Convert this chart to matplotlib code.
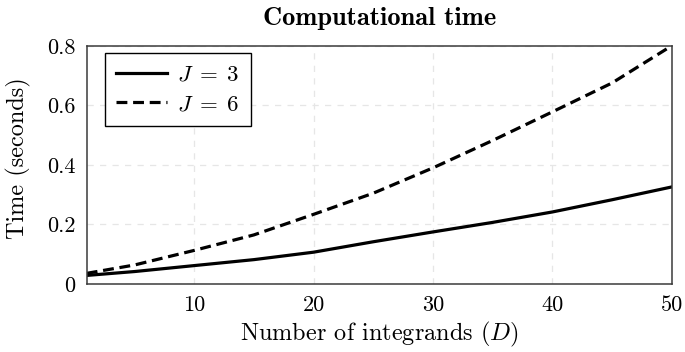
import numpy as np
import matplotlib
matplotlib.use("Agg")
import matplotlib.pyplot as plt

# number of integrands D and measured run time (seconds)
D = [1, 5, 10, 15, 20, 25, 30, 35, 40, 45, 50]
time_j3 = [0.029, 0.042, 0.062, 0.082, 0.107, 0.142, 0.175, 0.207, 0.242, 0.283, 0.326]
time_j6 = [0.036, 0.064, 0.113, 0.165, 0.234, 0.305, 0.390, 0.482, 0.578, 0.675, 0.800]

xticks = [10, 20, 30, 40, 50]
yticks = [0, 0.2, 0.4, 0.6, 0.8]
yticklabels = ["0", "0.2", "0.4", "0.6", "0.8"]

plt.rcParams['font.family'] = 'serif'
plt.rcParams['font.serif'] = ['cmr10', 'DejaVu Serif']
plt.rcParams['mathtext.fontset'] = 'cm'
plt.rcParams['axes.unicode_minus'] = False

fig = plt.figure(figsize=(6.85, 3.52), dpi=100)
ax = fig.add_axes([0.1266, 0.193, 0.854, 0.677])

ax.plot(D, time_j3, color='black', lw=2.3, ls='-', label='$J\\;=\\;3$')
ax.plot(D, time_j6, color='black', lw=2.3, ls=(0, (3.4, 1.8)), label='$J\\;=\\;6$')

ax.set_xlim(1, 50)
ax.set_ylim(0, 0.8)
ax.set_xticks(xticks)
ax.set_yticks(yticks)
ax.set_yticklabels(yticklabels)
ax.tick_params(length=0, labelsize=16)
ax.tick_params(axis='y', pad=8)
ax.tick_params(axis='x', pad=8)
ax.grid(True, color='#e6e6e6', ls=(0, (5, 5)), lw=0.9)
for s in ax.spines.values():
    s.set_color('#3a3a3a')
    s.set_linewidth(1.1)

ax.set_title('Computational time', fontname='cmb10', fontsize=19, pad=15)
ax.set_xlabel('Number of integrands $(D)$', fontsize=17.5, labelpad=4)
ax.set_ylabel('Time (seconds)', fontsize=17.5)
ax.yaxis.set_label_coords(-0.095, 0.53)

leg = ax.legend(loc='upper left', fontsize=16.5, fancybox=False, framealpha=1,
                edgecolor='black', handlelength=2.2, borderpad=0.5,
                labelspacing=0.42, handletextpad=0.45, borderaxespad=0,
                bbox_to_anchor=(0.031, 0.969))
leg.get_frame().set_linewidth(1.0)

fig.savefig('out.png', dpi=100)
